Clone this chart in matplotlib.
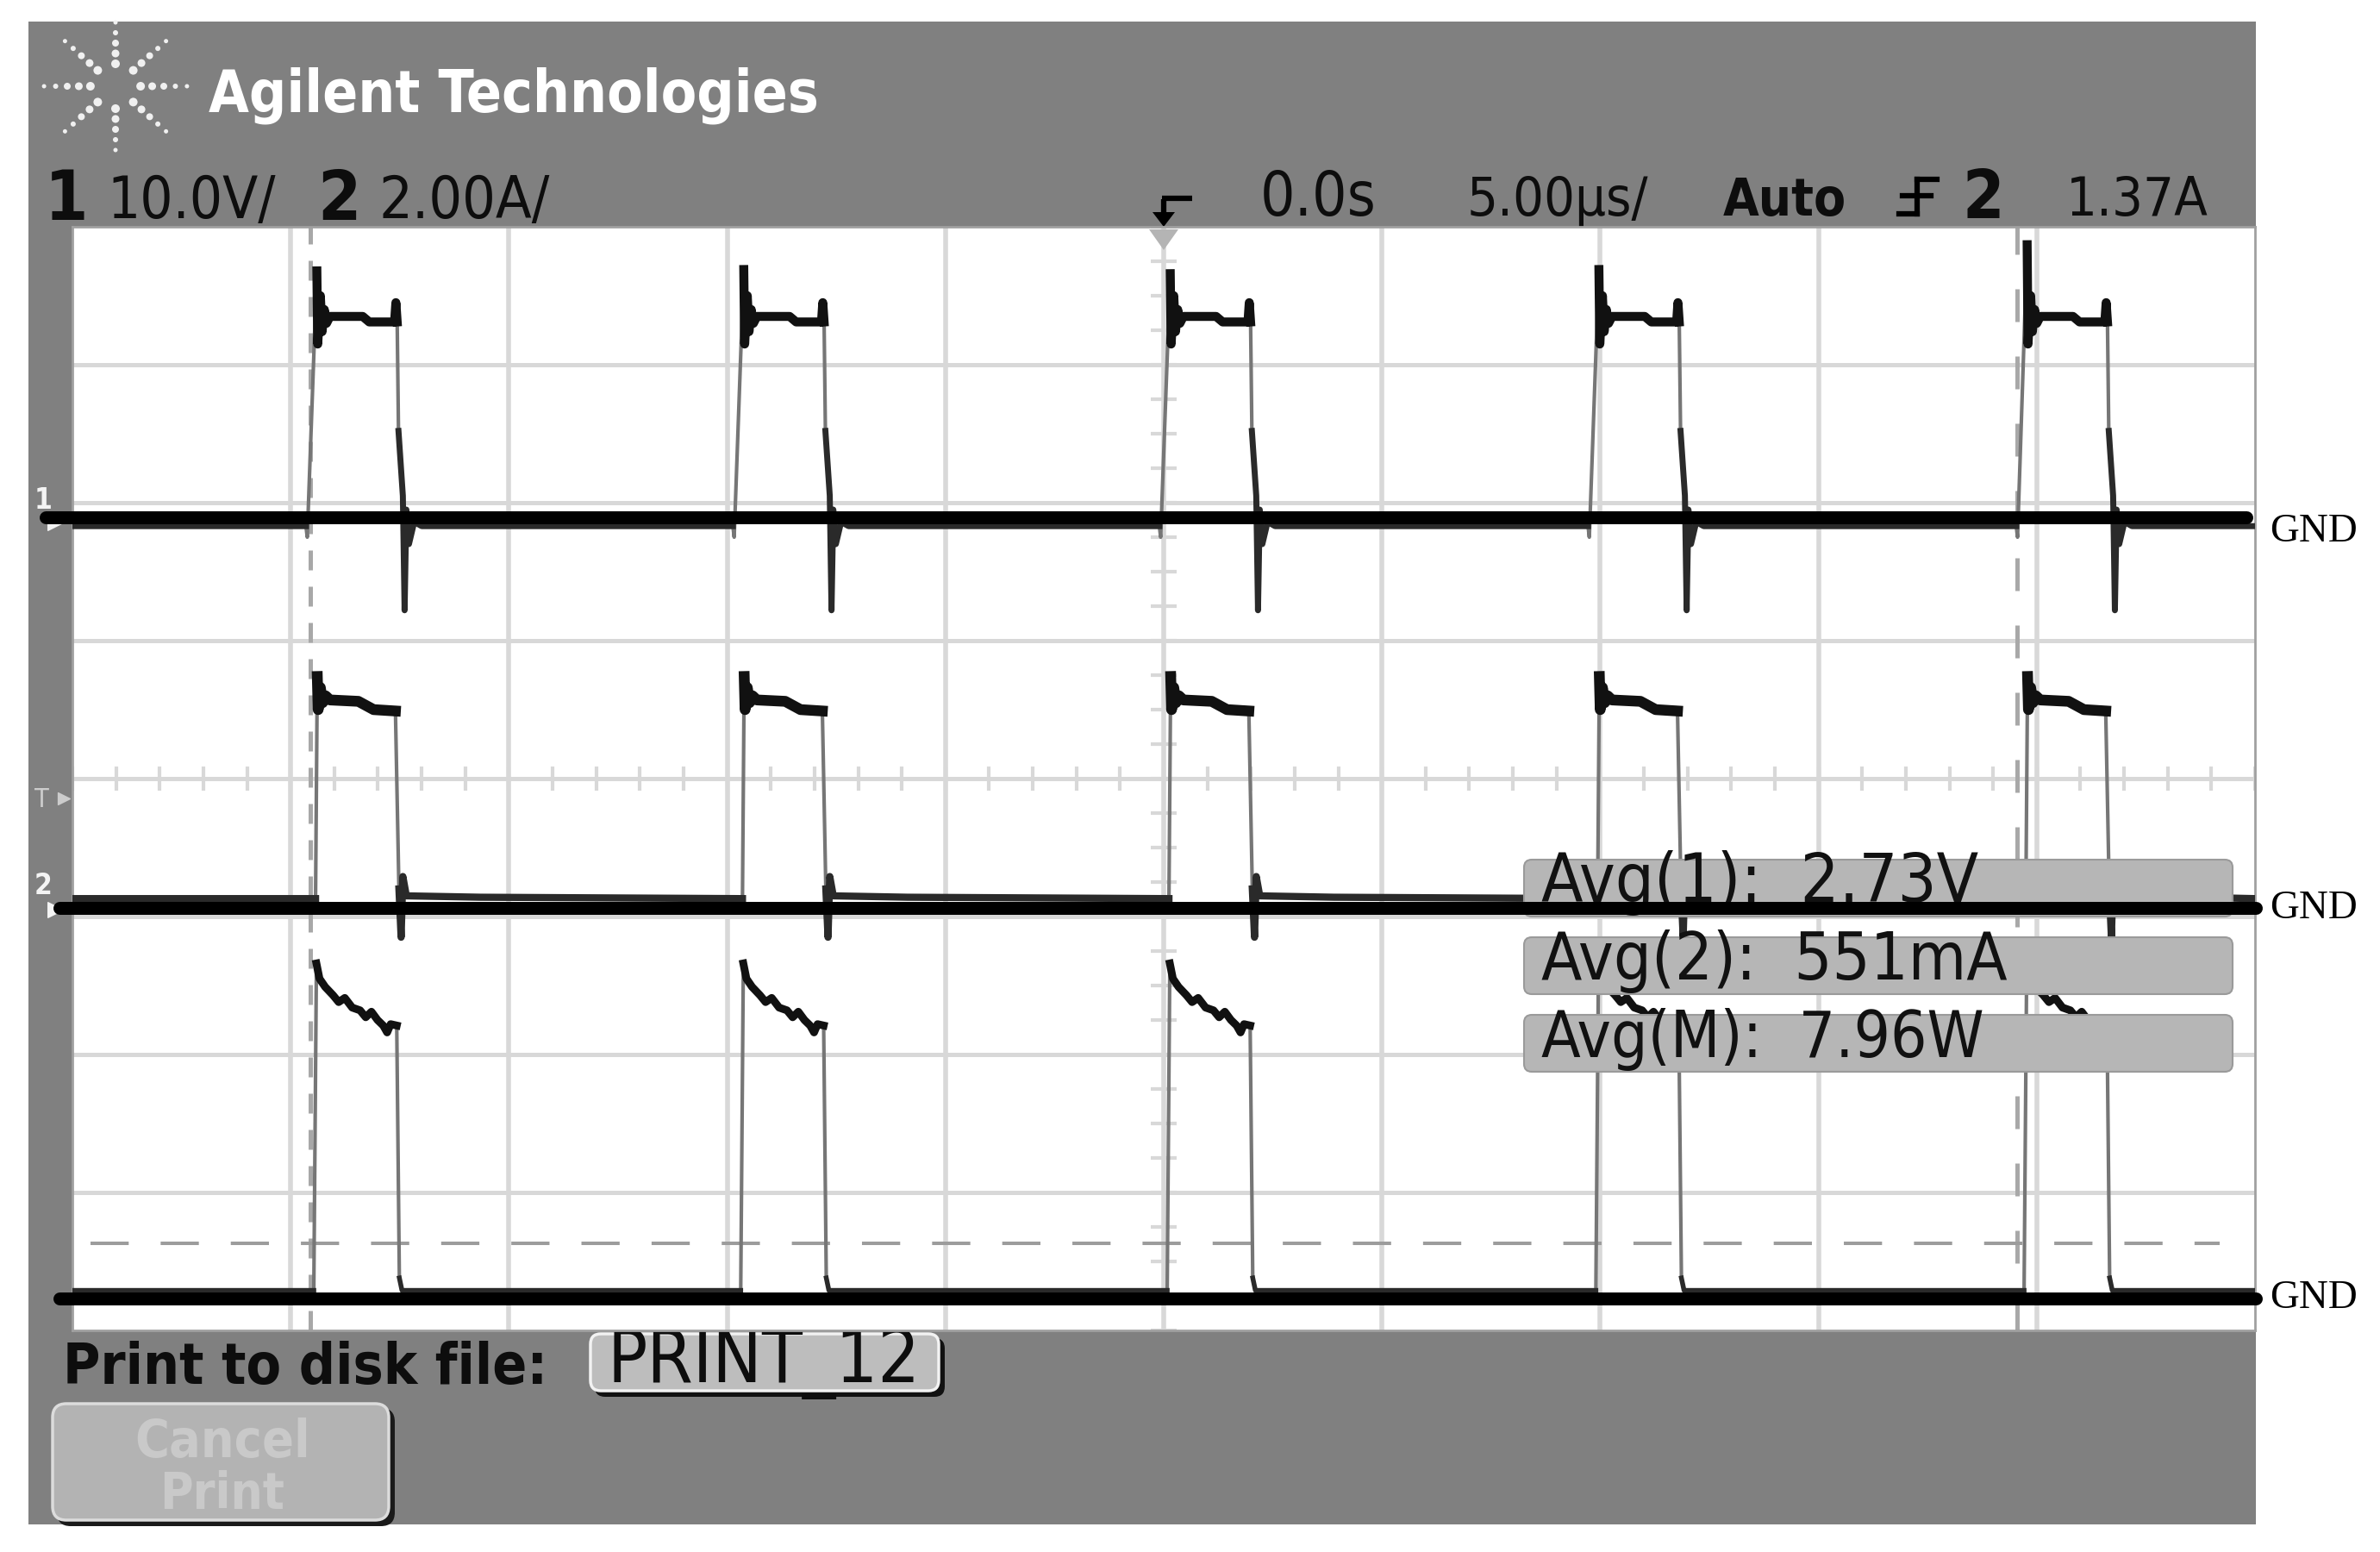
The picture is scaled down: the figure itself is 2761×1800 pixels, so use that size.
import numpy as np
import matplotlib
matplotlib.use("Agg")
import matplotlib.pyplot as plt
from matplotlib import font_manager as fm
from matplotlib.patches import Rectangle, FancyBboxPatch, Polygon

# ---------------- values ----------------
# horizontal: 5 us/div, 10 divisions ; vertical: screen divisions (-4 .. 4)
PULSE_T_US = [5.35, 15.13, 24.90, 34.72, 44.53]

# channel 1 (voltage, 10 V/div)
CH1_BASE = 1.83
CH1_SPIKE = [3.68, 3.69, 3.66, 3.69, 3.87]
CH1_RISE_DT = [0.00, 0.03]
CH1_RISE_V = [1.83, 1.75]
CH1_TOP_DT = [0.25, 0.27, 0.33, 0.37, 0.42, 0.47, 0.55, 1.30, 1.45, 2.03, 2.06, 2.09]
CH1_TOP_V = [3.68, 3.15, 3.50, 3.24, 3.40, 3.30, 3.35, 3.35, 3.31, 3.31, 3.45, 3.31]
CH1_RING_DT = [2.12, 2.22, 2.26, 2.30, 2.36, 2.48, 2.65]
CH1_RING_V = [2.52, 2.05, 1.22, 1.95, 1.70, 1.86, 1.83]

# channel 2 (current, 2 A/div)
CH2_BASE = -0.87
CH2_RISE_DT = [0.22]
CH2_RISE_V = [-0.87]
CH2_TOP_DT = [0.26, 0.28, 0.33, 0.38, 0.45, 0.55, 1.20, 1.55, 2.05]
CH2_TOP_V = [0.74, 0.50, 0.66, 0.55, 0.60, 0.57, 0.56, 0.50, 0.49]
CH2_RING_DT = [2.13, 2.18, 2.22, 2.30, 4.00]
CH2_RING_V = [-0.80, -1.15, -0.71, -0.85, -0.86]

# math channel (power)
CHM_BASE = -3.71
CHM_RISE_DT = [0.18]
CHM_RISE_V = [-3.71]
CHM_TOP_DT = [0.24, 0.31, 0.44, 0.62, 0.75, 0.89, 1.06, 1.24, 1.37, 1.50,
              1.64, 1.77, 1.86, 1.94, 2.08]
CHM_TOP_V = [-1.34, -1.45, -1.51, -1.57, -1.62, -1.59, -1.66, -1.68, -1.73,
             -1.69, -1.75, -1.79, -1.84, -1.78, -1.79]
CHM_RING_DT = [2.14, 2.20]
CHM_RING_V = [-3.62, -3.71]

GND_LEVELS = [1.894, -0.94, -3.77]
GND_LABEL_LEVELS = [1.79, -0.94, -3.77]
GND_LABEL = "GND"
LIMIT_LEVEL = -3.37
CURSOR_T_US = [5.45, 44.55]

HEADER_TITLE = "Agilent Technologies"
CH_NUMS = ["1", "2"]
CH_SCALES = ["10.0V/", "2.00A/"]
TIME_DELAY = "0.0s"
TIME_SCALE = "5.00µs/"
TRIG_MODE = "Auto"
TRIG_SRC = "2"
TRIG_LEVEL = "1.37A"
AVG_LABELS = ["Avg(1):", "Avg(2):", "Avg(M):"]
AVG_VALUES = ["2.73V", "551mA", "7.96W"]
PRINT_LABEL = "Print to disk file:"
PRINT_FILE = "PRINT_12"
CANCEL_LINES = ["Cancel", "Print"]

# ---------------- fonts ----------------
def has_font(name):
    try:
        fm.findfont(fm.FontProperties(family=name), fallback_to_default=False)
        return True
    except Exception:
        return False

SCOPE_FONT = ["Liberation Sans Narrow", "DejaVu Sans"] if has_font("Liberation Sans Narrow") else ["DejaVu Sans"]
SERIF_FONT = ["Liberation Serif", "DejaVu Serif"]
STRETCH = "condensed"

# ---------------- figure ----------------
W, H = 2761, 1800
fig = plt.figure(figsize=(W / 100, H / 100), dpi=100, facecolor="white")

bg = fig.add_axes([0, 0, 1, 1], zorder=0)
bg.set_xlim(0, W)
bg.set_ylim(H, 0)
bg.axis("off")

PANEL = "#808080"
bg.add_patch(Rectangle((33, 25), 2584, 1743, facecolor=PANEL, edgecolor="none"))

# plot area (pixel box 84..2616 x 263..1543)
L, R, T, B = 84, 2616, 263, 1543
ax = fig.add_axes([L / W, 1 - B / H, (R - L) / W, (B - T) / H], zorder=2)
ax.set_facecolor("white")
ax.set_autoscale_on(False)
ax.set_xlim(0, 50)
ax.set_ylim(-4, 4)
ax.set_xticks([])
ax.set_yticks([])
for s in ax.spines.values():
    s.set_color("#a0a0a0")
    s.set_linewidth(2.0)

GRID = "#d8d8d8"
for k in range(1, 10):
    ax.axvline(k * 5, color=GRID, lw=4.0, zorder=1)
for k in range(-3, 4):
    ax.axhline(k, color=GRID, lw=3.6, zorder=1)
# minor ticks on the centre axes
ax.hlines(np.arange(-4, 4.001, 0.25), 25 - 0.29, 25 + 0.29, color=GRID, lw=3.0, zorder=1)
ax.vlines(np.arange(0, 50.001, 1.0), -0.085, 0.085, color=GRID, lw=3.0, zorder=1)

# cursors and limit line
ax.axvline(CURSOR_T_US[0], color="#a8a8a8", lw=3.6, ls=(0, (4.6, 3.8)), zorder=2)
ax.axvline(CURSOR_T_US[1], color="#a8a8a8", lw=3.6, ls=(0, (7.6, 8.0)), zorder=2)
ax.plot([0.41, 49.2], [LIMIT_LEVEL, LIMIT_LEVEL], color="#9c9c9c", lw=2.9,
        ls=(0, (11, 9.2)), zorder=2)


def build(base, rise_dt, rise_v, top_dt, top_v, ring_dt, ring_v, spikes=None):
    full_t, full_v = [0.0], [base]
    top_t, top_vv = [], []
    low_t, low_v = [0.0], [base]
    for i, t0 in enumerate(PULSE_T_US):
        tv = list(top_v)
        if spikes is not None:
            tv[0] = spikes[i]
        rt = [t0 + d for d in rise_dt]
        tt = [t0 + d for d in top_dt]
        gt = [t0 + d for d in ring_dt]
        full_t += rt + tt + gt
        full_v += list(rise_v) + tv + list(ring_v)
        top_t += tt + [np.nan]
        top_vv += tv + [np.nan]
        low_t += [rt[0], np.nan] + gt
        low_v += [rise_v[0], np.nan] + list(ring_v)
    full_t.append(50.0)
    full_v.append(base)
    low_t.append(50.0)
    low_v.append(base)
    return (np.array(full_t), np.array(full_v), np.array(top_t), np.array(top_vv),
            np.array(low_t), np.array(low_v))


traces = [
    build(CH1_BASE, CH1_RISE_DT, CH1_RISE_V, CH1_TOP_DT, CH1_TOP_V, CH1_RING_DT, CH1_RING_V, CH1_SPIKE),
    build(CH2_BASE, CH2_RISE_DT, CH2_RISE_V, CH2_TOP_DT, CH2_TOP_V, CH2_RING_DT, CH2_RING_V),
    build(CHM_BASE, CHM_RISE_DT, CHM_RISE_V, CHM_TOP_DT, CHM_TOP_V, CHM_RING_DT, CHM_RING_V),
]
top_lw = [7.5, 9.0, 6.5]
low_lw = [5.0, 6.0, 4.0]
for (ft, fv, tt, tv, lt, lv), tlw, llw in zip(traces, top_lw, low_lw):
    ax.plot(ft, fv, color="#767676", lw=3.0, zorder=3, solid_joinstyle="round")
    ax.plot(lt, lv, color="#2a2a2a", lw=llw, zorder=3.5)
    ax.plot(tt, tv, color="#111111", lw=tlw, zorder=4, solid_joinstyle="round")

# trigger position marker on the top edge
ax.add_patch(Polygon([(1333, 266), (1367, 266), (1350, 290)], closed=True,
                     facecolor="#b4b4b4", edgecolor="none", transform=bg.transData,
                     clip_on=False, zorder=5))

# average measurement boxes (on top of traces)
box_y = [997, 1087, 1177]
avg_texts = []
for y0, lab, val in zip(box_y, AVG_LABELS, AVG_VALUES):
    ax.add_patch(FancyBboxPatch((1768, y0), 822, 66, boxstyle="round,pad=0,rounding_size=9",
                                facecolor="#b6b6b6", edgecolor="#9a9a9a", lw=1.5,
                                transform=bg.transData, clip_on=False, zorder=5))
    t = ax.text(1788, y0 + 49, f"{lab}  {val}", transform=bg.transData, fontsize=34,
                family=SCOPE_FONT, stretch=STRETCH, color="#111111", va="baseline",
                ha="left", zorder=6)
    avg_texts.append(t)

# GND reference lines and labels
gnd_x0 = [-0.61, -0.30, -0.30]
gnd_x1 = [49.8, 50.02, 50.02]
for lvl, x0, x1 in zip(GND_LEVELS, gnd_x0, gnd_x1):
    ax.plot([x0, x1], [lvl, lvl], color="black", lw=10.8, solid_capstyle="round",
            zorder=7, clip_on=False)
gnd_texts = []
for lab_lvl in GND_LABEL_LEVELS:
    gnd_texts.append(ax.text(50.33, lab_lvl, GND_LABEL, family=SERIF_FONT, fontsize=33,
                             va="center", ha="left", color="black", clip_on=False, zorder=7))

# ---------------- header ----------------
# Agilent spark logo
cx, cy = 134, 100
for ang in range(0, 360, 45):
    a = np.deg2rad(ang)
    radii = np.array([26, 38, 50, 62, 74])
    sizes = np.array([10, 9, 8, 6, 5])
    xs = cx + 1.12 * radii * np.cos(a)
    ys = cy - radii * np.sin(a)
    bg.scatter(xs, ys, s=(sizes * 0.72) ** 2, color="#f0f0f0", edgecolors="none", zorder=3)


def txt(x, y, s, size=40, weight="normal", color="#0d0d0d", ha="left"):
    return bg.text(x, y, s, color=color, fontsize=size, weight=weight, family=SCOPE_FONT,
                   stretch=STRETCH, va="baseline", ha=ha, zorder=3)


fit_list = []
fit_list.append((txt(242, 130, HEADER_TITLE, 50, "bold", "white"), 708))
txt(52, 255, CH_NUMS[0], 58, "bold")
fit_list.append((txt(124, 253, CH_SCALES[0]), 195))
txt(368, 255, CH_NUMS[1], 58, "bold")
fit_list.append((txt(440, 253, CH_SCALES[1]), 198))
fit_list.append((txt(1462, 250, TIME_DELAY), 134))
fit_list.append((txt(1702, 250, TIME_SCALE), 210))
fit_list.append((txt(1999, 250, TRIG_MODE, 40, "bold"), 143))
txt(2277, 253, TRIG_SRC, 56, "bold")
fit_list.append((txt(2397, 250, TRIG_LEVEL), 165))

# trigger-position glyph in header
bg.plot([1350, 1350], [231, 250], color="black", lw=4.5, zorder=3, solid_capstyle="butt")
bg.plot([1348, 1383], [230, 230], color="black", lw=4.5, zorder=3, solid_capstyle="butt")
bg.add_patch(Polygon([(1337, 246), (1363, 246), (1350, 263)], closed=True,
                     facecolor="black", edgecolor="none", zorder=3))
# falling-edge trigger glyph
bg.plot([2224, 2247], [208, 208], color="black", lw=4.5, zorder=3)
bg.plot([2224, 2224], [208, 248], color="black", lw=4.5, zorder=3)
bg.plot([2203, 2224], [248, 248], color="black", lw=4.5, zorder=3)
bg.plot([2207, 2240], [227, 227], color="black", lw=4.5, zorder=3)

# channel reference markers in left margin
txt(40, 590, "1", 24, "bold", "#f4f4f4")
bg.scatter([64], [606], marker=">", s=160, color="#f4f4f4", zorder=3)
txt(40, 1037, "2", 24, "bold", "#f4f4f4")
bg.scatter([64], [1055], marker=">", s=160, color="#f4f4f4", zorder=3)
txt(40, 936, "T", 22, "normal", "#cccccc")
bg.scatter([74], [926], marker=">", s=100, color="#cccccc", zorder=3)

# ---------------- bottom soft keys ----------------
fit_list.append((txt(73, 1605, PRINT_LABEL, 40, "bold"), 562))
bg.add_patch(FancyBboxPatch((690, 1552), 406, 68, boxstyle="round,pad=0,rounding_size=12",
                            facecolor="#111111", edgecolor="none", zorder=2))
bg.add_patch(FancyBboxPatch((685, 1547), 404, 66, boxstyle="round,pad=0,rounding_size=12",
                            facecolor="#bdbdbd", edgecolor="#f2f2f2", lw=2.5, zorder=2.5))
fit_list.append((txt(704, 1603, PRINT_FILE), 363))

bg.add_patch(FancyBboxPatch((66, 1633), 392, 137, boxstyle="round,pad=0,rounding_size=16",
                            facecolor="#1a1a1a", edgecolor="none", zorder=2))
bg.add_patch(FancyBboxPatch((61, 1628), 390, 135, boxstyle="round,pad=0,rounding_size=16",
                            facecolor="#b3b3b3", edgecolor="#dcdcdc", lw=2.5, zorder=2.5))
fit_list.append((txt(258, 1690, CANCEL_LINES[0], 40, "bold", "#c9c9c9", "center"), 203))
fit_list.append((txt(258, 1750, CANCEL_LINES[1], 40, "bold", "#c9c9c9", "center"), 145))

fit_list += [(avg_texts[0], 507), (avg_texts[1], 541), (avg_texts[2], 514)]
fit_list += [(g, 102) for g in gnd_texts]

# scale font sizes so each label spans the width it has in the screenshot
fig.canvas.draw()
rend = fig.canvas.get_renderer()
for t_, target in fit_list:
    wpx = t_.get_window_extent(rend).width
    if wpx > 0:
        t_.set_fontsize(t_.get_fontsize() * target / wpx)

fig.savefig("out.png", dpi=100, facecolor="white")
